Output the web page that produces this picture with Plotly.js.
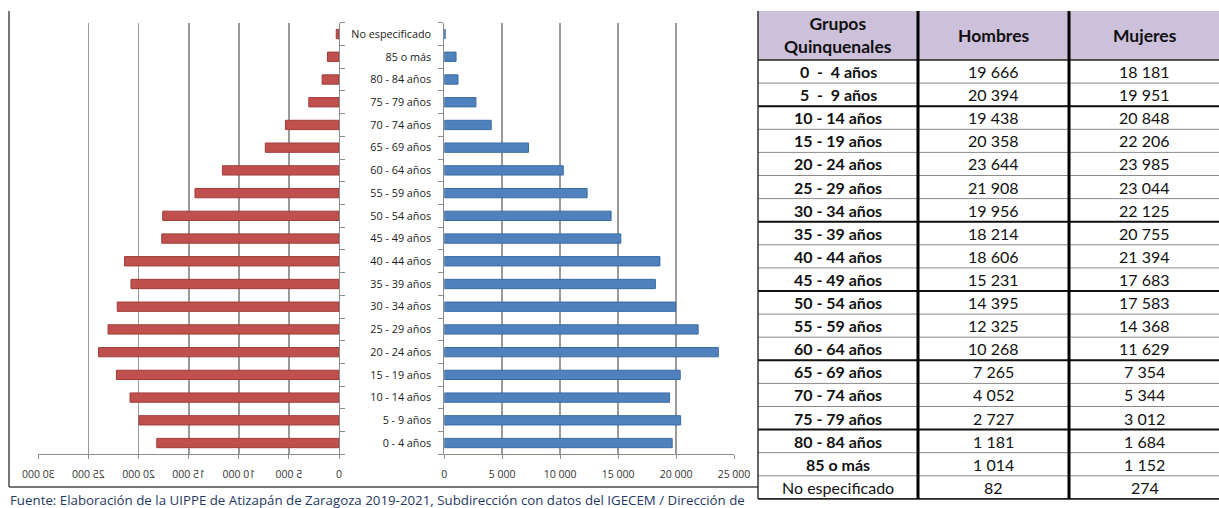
<!DOCTYPE html>
<html>
<head>
<meta charset="utf-8">
<script src="https://cdn.plot.ly/plotly-3.0.1.min.js"></script>
<style>
  html, body { margin: 0; padding: 0; background: #fff; }
  #chart { width: 1219px; height: 508px; }
</style>
</head>
<body>
<div id="chart"></div>
<script>
// ---------- DATA ----------
const chartCategories = ["0 - 4 años", "5 - 9 años", "10 - 14 años", "15 - 19 años", "20 - 24 años",
  "25 - 29 años", "30 - 34 años", "35 - 39 años", "40 - 44 años", "45 - 49 años", "50 - 54 años",
  "55 - 59 años", "60 - 64 años", "65 - 69 años", "70 - 74 años", "75 - 79 años", "80 - 84 años",
  "85 o más", "No especificado"];
const tableCategories = ["0\u00a0\u00a0-\u00a0\u00a04 años", "5\u00a0\u00a0-\u00a0\u00a09 años", "10 - 14 años", "15 - 19 años", "20 - 24 años",
  "25 - 29 años", "30 - 34 años", "35 - 39 años", "40 - 44 años", "45 - 49 años", "50 - 54 años",
  "55 - 59 años", "60 - 64 años", "65 - 69 años", "70 - 74 años", "75 - 79 años", "80 - 84 años",
  "85 o más", "No especificado"];
const hombres = [19666, 20394, 19438, 20358, 23644, 21908, 19956, 18214, 18606, 15231, 14395,
  12325, 10268, 7265, 4052, 2727, 1181, 1014, 82];
const mujeres = [18181, 19951, 20848, 22206, 23985, 23044, 22125, 20755, 21394, 17683, 17583,
  14368, 11629, 7354, 5344, 3012, 1684, 1152, 274];
const tableHeaders = ["Grupos<br>Quinquenales", "Hombres", "Mujeres"];
const leftTicks = [0, 5000, 10000, 15000, 20000, 25000, 30000];
const rightTicks = [0, 5000, 10000, 15000, 20000, 25000];
const footerText = "Fuente: Elaboración de la UIPPE de Atizapán de Zaragoza 2019-2021, Subdirección con datos del IGECEM / Dirección de";
const thickRowsAfter = [1, 6, 9, 12, 15];

// ---------- LAYOUT HELPERS ----------
const W = 1219, H = 508;
const px = v => v / W;
const py = v => 1 - v / H;
const fmt = n => String(n).replace(/\B(?=(\d{3})+(?!\d))/g, " ");

const FONT = "Lato, 'Open Sans', sans-serif";
const FONT2 = "'Open Sans', Lato, sans-serif";
const plotTop = 22.7, plotBottom = 454.4;

const traces = [
  {
    type: "bar", orientation: "h", name: "Mujeres",
    x: mujeres, y: chartCategories, xaxis: "x", yaxis: "y",
    marker: { color: "#C0504D", line: { color: "#A03C39", width: 1 } },
    hoverinfo: "x+y"
  },
  {
    type: "bar", orientation: "h", name: "Hombres",
    x: hombres, y: chartCategories, xaxis: "x2", yaxis: "y2",
    marker: { color: "#4F81BD", line: { color: "#3A6AA3", width: 1 } },
    hoverinfo: "x+y"
  }
];

// ---------- TABLE (shapes + annotations) ----------
const tableLeft = 758, colEdges = [758, 918, 1069, 1220];
const tableTop = 11, headerH = 49, rowH = 23.1;
const bodyTop = tableTop + headerH;
const tableBottom = bodyTop + rowH * tableCategories.length;

const shapes = [
  // outer chart frame (left + bottom)
  { type: "line", xref: "paper", yref: "paper", x0: px(9), x1: px(9), y0: py(11), y1: py(487), line: { color: "#4a4a4a", width: 1.5 } },
  { type: "line", xref: "paper", yref: "paper", x0: px(9), x1: px(758), y0: py(487), y1: py(487), line: { color: "#4a4a4a", width: 1.5 } },
  // header fill
  { type: "rect", xref: "paper", yref: "paper", x0: px(tableLeft), x1: 1, y0: py(bodyTop), y1: py(tableTop), fillcolor: "#CCC0DA", line: { width: 0 }, layer: "below" }
];
for (let i = 1; i < tableCategories.length; i++) {
  const yy = bodyTop + i * rowH;
  shapes.push({ type: "line", xref: "paper", yref: "paper", x0: px(tableLeft), x1: 1, y0: py(yy), y1: py(yy), line: { color: "#8a8a8a", width: 1 } });
}
thickRowsAfter.forEach(k => {
  const yy = bodyTop + (k + 1) * rowH;
  shapes.push({ type: "line", xref: "paper", yref: "paper", x0: px(tableLeft), x1: 1, y0: py(yy), y1: py(yy), line: { color: "#111", width: 2 } });
});
shapes.push({ type: "line", xref: "paper", yref: "paper", x0: px(tableLeft), x1: 1, y0: py(bodyTop), y1: py(bodyTop), line: { color: "#222", width: 1.5 } });
shapes.push({ type: "line", xref: "paper", yref: "paper", x0: px(tableLeft), x1: 1, y0: py(tableBottom), y1: py(tableBottom), line: { color: "#222", width: 1.8 } });
shapes.push({ type: "line", xref: "paper", yref: "paper", x0: px(colEdges[0]), x1: px(colEdges[0]), y0: py(tableTop), y1: py(tableBottom), line: { color: "#333", width: 1.5 } });
shapes.push({ type: "line", xref: "paper", yref: "paper", x0: px(colEdges[1]), x1: px(colEdges[1]), y0: py(tableTop), y1: py(tableBottom), line: { color: "#000", width: 3 } });
shapes.push({ type: "line", xref: "paper", yref: "paper", x0: px(colEdges[2]), x1: px(colEdges[2]), y0: py(tableTop), y1: py(tableBottom), line: { color: "#000", width: 3 } });

const annotations = [
  { xref: "paper", yref: "paper", x: px(8), y: py(500), xanchor: "left", yanchor: "middle",
    text: footerText, showarrow: false, font: { family: FONT2, size: 13.3, color: "#1F3864" } }
];
const colCenters = [0, 1, 2].map(c => (colEdges[c] + colEdges[c + 1]) / 2);
tableHeaders.forEach((h, c) => {
  annotations.push({ xref: "paper", yref: "paper", x: px(colCenters[c]), y: py(tableTop + headerH / 2),
    xanchor: "center", yanchor: "middle", showarrow: false, text: "<b>" + h + "</b>",
    font: { family: FONT, size: 17.5, color: "#111" } });
});
const colValues = [tableCategories, hombres.map(fmt), mujeres.map(fmt)];
colValues.forEach((vals, c) => {
  vals.forEach((v, i) => {
    const bold = c === 0 && i < vals.length - 1;
    annotations.push({ xref: "paper", yref: "paper", x: px(colCenters[c]), y: py(bodyTop + (i + 0.5) * rowH),
      xanchor: "center", yanchor: "middle", showarrow: false,
      text: bold ? "<b>" + v + "</b>" : v,
      font: { family: FONT, size: 16, color: "#111" } });
  });
});

const axisCommon = {
  showgrid: true, gridcolor: "#9A9A9A", gridwidth: 1.8,
  showline: true, linecolor: "#8C8C8C", linewidth: 1,
  ticks: "outside", ticklen: 4, tickcolor: "#8C8C8C",
  zeroline: false, tickmode: "array",
  tickfont: { family: FONT2, size: 10.5, color: "#333" },
  ticklabelstandoff: 6, fixedrange: true
};

const layout = {
  width: W, height: H,
  margin: { l: 0, r: 0, t: 0, b: 0 },
  paper_bgcolor: "#fff", plot_bgcolor: "rgba(0,0,0,0)",
  showlegend: false,
  bargap: 0.59,
  xaxis: Object.assign({}, axisCommon, {
    domain: [px(38.3), px(339)], range: [30000, 0], anchor: "y",
    tickvals: leftTicks, ticktext: leftTicks.map(fmt)
  }),
  xaxis2: Object.assign({}, axisCommon, {
    domain: [px(444.3), px(734)], range: [0, 25000], anchor: "y2",
    tickvals: rightTicks, ticktext: rightTicks.map(fmt)
  }),
  yaxis: {
    domain: [py(plotBottom), py(plotTop)], anchor: "x", side: "right",
    type: "category", showgrid: false, zeroline: false,
    showline: true, linecolor: "#8C8C8C", ticks: "outside", tickson: "boundaries",
    ticklen: 5, tickcolor: "#8C8C8C", showticklabels: false, fixedrange: true
  },
  yaxis2: {
    domain: [py(plotBottom), py(plotTop)], anchor: "x2", side: "left",
    type: "category", showgrid: false, zeroline: false,
    showline: true, linecolor: "#8C8C8C", ticks: "outside", tickson: "boundaries",
    ticklen: 5, tickcolor: "#8C8C8C", showticklabels: true, fixedrange: true,
    tickfont: { family: FONT2, size: 10.8, color: "#1a1a1a" }, ticklabelstandoff: 10
  },
  shapes: shapes,
  annotations: annotations
};

Plotly.newPlot("chart", traces, layout, { displayModeBar: false, staticPlot: true }).then(gd => {
  // the reference draws the left axis tick labels mirrored
  gd.querySelectorAll(".subplot.xy .xaxislayer-above .xtick text").forEach(t => {
    const b = t.getBBox();
    const cx = b.x + b.width / 2;
    const orig = t.getAttribute("transform") || "";
    t.setAttribute("transform", orig + " translate(" + cx + ",0) scale(-1,1) translate(" + (-cx) + ",0)");
  });
});
</script>
</body>
</html>
